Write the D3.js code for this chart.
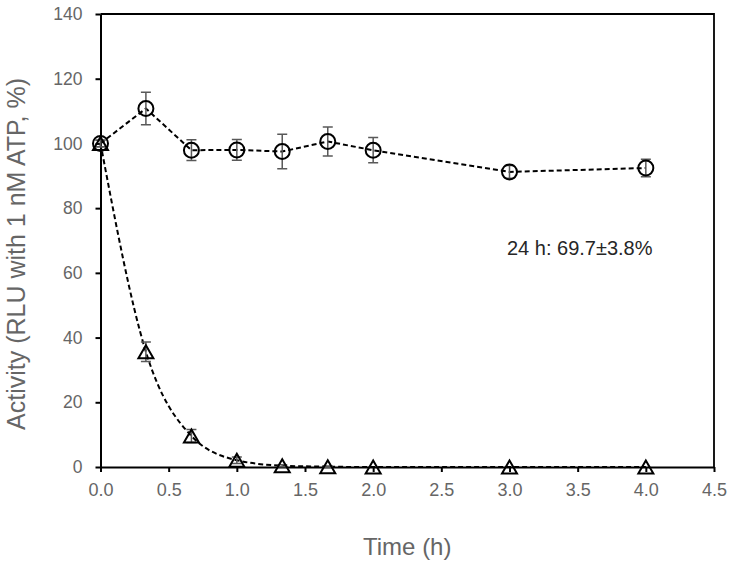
<!DOCTYPE html>
<html>
<head>
<meta charset="utf-8">
<script src="https://cdn.jsdelivr.net/npm/d3@7"></script>
<style>
  body { margin: 0; background: #fff; }
  text { font-family: Arial, "Liberation Sans", sans-serif; }
</style>
</head>
<body>
<div id="chart"></div>
<script>
// time points (h)
var timePoints = [0, 0.333, 0.667, 1.0, 1.333, 1.667, 2.0, 3.0, 4.0];

// circle series (mean, error)
var circleValues = [100, 110.8, 97.9, 98.0, 97.5, 100.6, 97.9, 91.2, 92.4];
var circleErrors = [1, 5, 3.2, 3.2, 5.3, 4.5, 3.9, 2, 2.7];

// triangle series (mean, error)
var triangleValues = [100, 35.6, 9.6, 2.1, 0.4, 0.1, 0, 0, 0];
var triangleErrors = [1, 3, 2, 1, 0.3, 0.2, 0, 0, 0];

var xTicks = [0, 0.5, 1, 1.5, 2, 2.5, 3, 3.5, 4, 4.5];
var yTicks = [0, 20, 40, 60, 80, 100, 120, 140];

var note = "24 h: 69.7\u00b13.8%";

var svgWidth = 733, svgHeight = 565;
var margin = { top: 14, right: 19, bottom: 98, left: 100.5 };
var width = svgWidth - margin.left - margin.right;
var height = svgHeight - margin.top - margin.bottom;

var svg = d3.select('#chart')
    .append('svg')
    .attr('width', svgWidth)
    .attr('height', svgHeight);

var chartGroup = svg.append('g')
    .attr('transform', `translate(${margin.left}, ${margin.top})`);

var x = d3.scaleLinear().domain([0, 4.5]).range([0, width]);
var y = d3.scaleLinear().domain([0, 140]).range([height, 0]);

// frame (top and right)
chartGroup.append('path')
    .attr('d', `M0,0H${width}V${height}`)
    .attr('fill', 'none')
    .attr('stroke', '#000')
    .attr('stroke-width', 1.8);

// axes
var bottomAxis = d3.axisBottom(x).tickValues(xTicks).tickFormat(d3.format('.1f'))
    .tickSizeInner(5).tickSizeOuter(0).tickPadding(11);
var leftAxis = d3.axisLeft(y).tickValues(yTicks)
    .tickSizeInner(5).tickSizeOuter(0).tickPadding(13);

var xg = chartGroup.append('g')
    .attr('transform', `translate(0, ${height})`)
    .call(bottomAxis);
var yg = chartGroup.append('g').call(leftAxis);

[xg, yg].forEach(g => {
    g.select('.domain').attr('stroke', '#000').attr('stroke-width', 2);
    g.selectAll('.tick line').attr('stroke', '#000').attr('stroke-width', 2);
    g.selectAll('.tick text').attr('fill', '#666').style('font-family', 'Arial, "Liberation Sans", sans-serif');
});
xg.selectAll('.tick text').style('font-size', '18px');
yg.selectAll('.tick text').style('font-size', '17.5px');

// axis titles
chartGroup.append('text')
    .attr('transform', 'rotate(-90)')
    .attr('x', -240)
    .attr('y', 25 - margin.left)
    .attr('text-anchor', 'middle')
    .attr('fill', '#666')
    .style('font-size', '25px')
    .text('Activity (RLU with 1 nM ATP, %)');

chartGroup.append('text')
    .attr('x', x(2.25))
    .attr('y', 555 - margin.top)
    .attr('text-anchor', 'middle')
    .attr('fill', '#666')
    .style('font-size', '24px')
    .text('Time (h)');

var circleData = timePoints.map((t, i) => ({ t: t, v: circleValues[i], e: circleErrors[i] }));
var triData = timePoints.map((t, i) => ({ t: t, v: triangleValues[i], e: triangleErrors[i] }));

// lines
var lineStraight = d3.line().x(d => x(d.t)).y(d => y(d.v));
var lineSmooth = d3.line().x(d => x(d.t)).y(d => y(d.v)).curve(d3.curveMonotoneX);

chartGroup.append('path')
    .datum(triData)
    .attr('d', lineSmooth)
    .attr('fill', 'none')
    .attr('stroke', '#000')
    .attr('stroke-width', 2)
    .attr('stroke-dasharray', '5,3');

chartGroup.append('path')
    .datum(circleData)
    .attr('d', lineStraight)
    .attr('fill', 'none')
    .attr('stroke', '#000')
    .attr('stroke-width', 2)
    .attr('stroke-dasharray', '5,3');

// error bars
function drawErrors(data) {
    var eb = chartGroup.append('g')
        .attr('stroke', '#595959')
        .attr('stroke-width', 1.5)
        .attr('fill', 'none');
    data.filter(d => d.e > 0).forEach(d => {
        var cx = x(d.t), y1 = y(d.v + d.e), y2 = y(d.v - d.e);
        eb.append('path')
            .attr('d', `M${cx},${y1}V${y2}M${cx - 5},${y1}H${cx + 5}M${cx - 5},${y2}H${cx + 5}`);
    });
}
drawErrors(circleData);
drawErrors(triData);

// markers
chartGroup.selectAll('circle.mk')
    .data(circleData)
    .enter()
    .append('circle')
    .attr('class', 'mk')
    .attr('cx', d => x(d.t))
    .attr('cy', d => y(d.v))
    .attr('r', 7.5)
    .attr('fill', 'none')
    .attr('stroke', '#000')
    .attr('stroke-width', 2);

chartGroup.selectAll('path.tri')
    .data(triData)
    .enter()
    .append('path')
    .attr('class', 'tri')
    .attr('d', d => {
        var cx = x(d.t), cy = y(d.v);
        return `M${cx},${cy - 6.5}L${cx + 7.5},${cy + 6.5}L${cx - 7.5},${cy + 6.5}Z`;
    })
    .attr('fill', 'none')
    .attr('stroke', '#000')
    .attr('stroke-width', 2);

// annotation
chartGroup.append('text')
    .attr('x', 507 - margin.left)
    .attr('y', 255 - margin.top)
    .attr('fill', '#262626')
    .style('font-size', '20px')
    .text(note);
</script>
</body>
</html>
